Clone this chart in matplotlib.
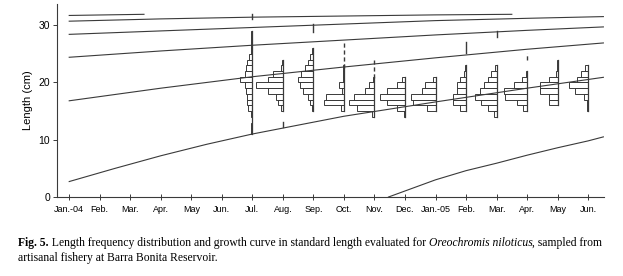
import matplotlib
matplotlib.use("Agg")
import matplotlib.pyplot as plt
from matplotlib.patches import Rectangle

# month labels, Jan 2004 .. Jun 2005 (month index 0..17)
month_labels = ["Jan.-04", "Feb.", "Mar.", "Apr.", "May", "Jun.", "Jul.", "Aug.",
                "Sep.", "Oct.", "Nov.", "Dec.", "Jan.-05", "Feb.", "Mar.", "Apr.",
                "May", "Jun."]

# growth curves: month index -> length (cm)
curve1_x = [0, 1.2, 2.45]
curve1_y = [31.7, 31.8, 31.9]
curve2_x = [0, 3, 6, 9, 12, 14.5]
curve2_y = [30.7, 31.1, 31.4, 31.6, 31.8, 31.9]
curve3_x = [0, 3, 6, 9, 12, 15, 17.5]
curve3_y = [28.4, 29.0, 29.6, 30.2, 30.8, 31.2, 31.5]
curve4_x = [0, 3, 6, 9, 12, 15, 17.5]
curve4_y = [24.4, 25.5, 26.5, 27.4, 28.3, 29.1, 29.7]
curve5_x = [0, 3, 6, 9, 12, 15, 17.5]
curve5_y = [16.8, 19.0, 21.0, 22.7, 24.3, 25.8, 26.9]
curve6_x = [0, 1.5, 3, 4.5, 6, 9, 12, 15, 17.5]
curve6_y = [2.7, 5.0, 7.2, 9.2, 11.0, 14.1, 16.6, 19.0, 20.9]
curve7_x = [10.46, 12, 13, 14, 15, 16, 17, 17.5]
curve7_y = [0.0, 3.0, 4.6, 5.9, 7.3, 8.6, 9.8, 10.5]

# length frequencies, 1 cm classes: (month index, lowest class, frequencies)
hist_jul = (6, 11, [1.5, 1.5, 0, 1.5, 4, 5, 5.5, 6, 7, 12, 7.5, 6.5, 5, 3, 1, 1, 1, 1])
hist_aug = (7, 15, [2, 5, 7, 15, 27, 15, 10, 1.5, 1])
hist_sep = (8, 15, [1, 3, 5, 10, 13, 15, 12, 8, 5, 3, 1])
hist_oct = (9, 15, [3, 20, 18, 2, 5, 1, 1, 1])
hist_nov = (10, 14, [2, 17, 25, 20, 9, 5, 1])
hist_dec = (11, 14, [1, 8, 18, 25, 18, 8, 3])
hist_jan = (12, 15, [8, 22, 24, 13, 10, 3])
hist_feb = (13, 15, [6, 13, 13, 9, 9, 6, 2, 1])
hist_mar = (14, 14, [3, 9, 16, 22, 17, 13, 9, 6, 2])
hist_apr = (15, 15, [4, 10, 22, 23, 13, 5, 1.5])
hist_may = (16, 16, [9, 9, 18, 18, 9, 2, 1, 1])
hist_jun = (17, 15, [1, 1, 4, 13, 19, 11, 7, 3])

# short marks on the sample baselines: (month index, from cm, to cm, dashed)
marks = [(6, 31.0, 32.0, False), (7, 12.2, 13.1, False), (8, 28.8, 30.2, False),
         (9, 22.5, 27.2, True), (10, 20.7, 24.0, True), (13, 25.1, 27.1, False),
         (14, 28.0, 29.0, False), (15, 23.9, 25.1, True)]

FREQ_SCALE = 1 / 30.5  # frequency unit -> month width
INK = "#3a3a3a"

fig = plt.figure(figsize=(6.23, 2.76), dpi=100)
ax = fig.add_axes([0.0915, 0.2862, 0.878, 0.6993])

for cx, cy in [(curve1_x, curve1_y), (curve2_x, curve2_y), (curve3_x, curve3_y),
               (curve4_x, curve4_y), (curve5_x, curve5_y), (curve6_x, curve6_y),
               (curve7_x, curve7_y)]:
    ax.plot(cx, cy, color=INK, lw=0.8)

for m, lo, freqs in [hist_jul, hist_aug, hist_sep, hist_oct, hist_nov, hist_dec,
                     hist_jan, hist_feb, hist_mar, hist_apr, hist_may, hist_jun]:
    for i, f in enumerate(freqs):
        if f <= 0:
            continue
        w = f * FREQ_SCALE
        ax.add_patch(Rectangle((m - w, lo + i), w, 1, fill=False,
                               edgecolor=INK, lw=0.7))
    ax.plot([m, m], [lo, lo + len(freqs)], color=INK, lw=0.9)

for m, y0, y1, dashed in marks:
    ax.plot([m, m], [y0, y1], color=INK, lw=1.0,
            ls=(0, (3, 2)) if dashed else "-")

ax.set_xlim(-0.4, 17.52)
ax.set_ylim(0, 33.7)
ax.set_xticks(range(len(month_labels)))
ax.set_xticklabels(month_labels, family="Liberation Sans", fontsize=6.5)
ax.set_yticks([0, 10, 20, 30])
ax.set_yticklabels(["0", "10", "20", "30"], family="Liberation Sans", fontsize=7.5)
ax.tick_params(axis="x", direction="inout", length=5, width=0.7, color=INK, pad=3)
ax.tick_params(axis="y", direction="out", length=3, width=0.7, color=INK, pad=2)
ax.set_ylabel("Length (cm)", family="Liberation Sans", fontsize=8, labelpad=4)
for side in ["top", "right"]:
    ax.spines[side].set_visible(False)
for side in ["left", "bottom"]:
    ax.spines[side].set_color(INK)
    ax.spines[side].set_linewidth(0.8)

# caption, drawn piece by piece to mix bold, roman and italic
renderer = fig.canvas.get_renderer()


def caption_line(x, y, parts):
    for s, kw in parts:
        t = fig.text(x, y, s, fontsize=8.4, family="Liberation Serif",
                     va="center", **kw)
        x += t.get_window_extent(renderer=renderer).width / fig.bbox.width


caption_line(0.029, 0.12, [
    ("Fig. 5.", {"weight": "bold"}),
    (" Length frequency distribution and growth curve in standard length evaluated for ", {}),
    ("Oreochromis niloticus", {"style": "italic"}),
    (", sampled from", {}),
])
caption_line(0.029, 0.065, [("artisanal fishery at Barra Bonita Reservoir.", {})])

fig.savefig("out.png", dpi=100)
